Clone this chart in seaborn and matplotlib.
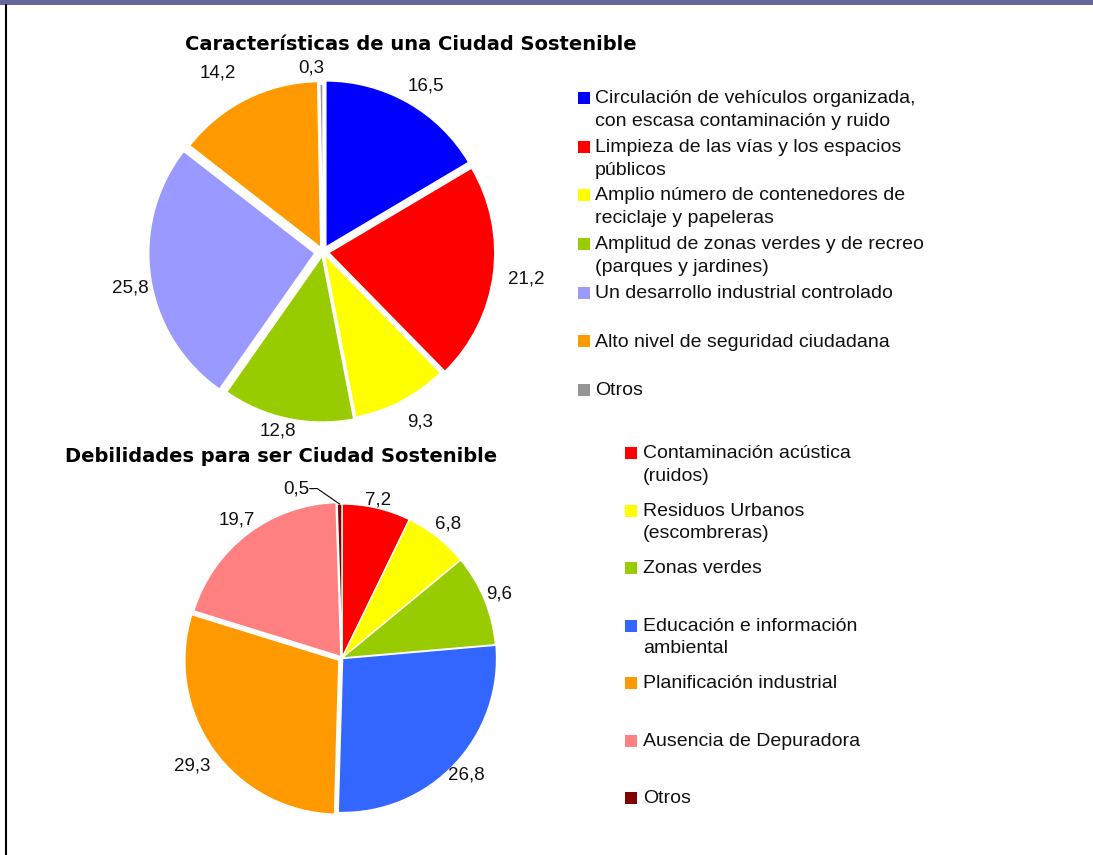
import matplotlib
matplotlib.use("Agg")
import matplotlib.pyplot as plt
import seaborn as sns
import numpy as np
from matplotlib.patches import Rectangle
from matplotlib.lines import Line2D

sns.set_theme(style="white")
plt.rcParams['font.family'] = ['Liberation Sans', 'DejaVu Sans']

# ---- data ----
title1 = "Características de una Ciudad Sostenible"
cats1 = ["Circulación de vehículos organizada,\ncon escasa contaminación y ruido",
         "Limpieza de las vías y los espacios\npúblicos",
         "Amplio número de contenedores de\nreciclaje y papeleras",
         "Amplitud de zonas verdes y de recreo\n(parques y jardines)",
         "Un desarrollo industrial controlado",
         "Alto nivel de seguridad ciudadana",
         "Otros"]
vals1 = [16.5, 21.2, 9.3, 12.8, 25.8, 14.2, 0.3]
cols1 = ["#0000FF", "#FF0000", "#FFFF00", "#99CC00", "#9999FF", "#FF9900", "#969696"]

title2 = "Debilidades para ser Ciudad Sostenible"
cats2 = ["Contaminación acústica\n(ruidos)",
         "Residuos Urbanos\n(escombreras)",
         "Zonas verdes",
         "Educación e información\nambiental",
         "Planificación industrial",
         "Ausencia de Depuradora",
         "Otros"]
vals2 = [7.2, 6.8, 9.6, 26.8, 29.3, 19.7, 0.5]
cols2 = ["#FF0000", "#FFFF00", "#99CC00", "#3366FF", "#FF9900", "#FF8080", "#800000"]

# label placement (distance from centre, in radii) -- layout only
ldist1 = [1.175, 1.235, 1.18, 1.11, 1.18, 1.25, 1.11]
lnudge1 = [-2, 0, 2, -2, 2, 4, 3]   # degrees
ldist2 = [1.05, 1.11, 1.10, 1.11, 1.20, 1.13]

W, H = 1093, 855
fig = plt.figure(figsize=(W / 100, H / 100), dpi=100)
fig.patch.set_facecolor("white")


def fmt(v):
    return f"{v:.1f}".replace(".", ",")


def pie_axes(cx, cy, r):
    s = 2.5 * r
    return fig.add_axes([(cx - s / 2) / W, 1 - (cy + s / 2) / H, s / W, s / H])


LBL = dict(fontsize=13.5, color="#111111", ha="center", va="center")


def mid_angle(w):
    return np.deg2rad((w.theta1 + w.theta2) / 2)


# ---- top pie ----
ax1 = pie_axes(323, 252, 166)
explode1 = [0.035, 0.035, 0.015, 0.025, 0.05, 0.03, 0.01]
wedges, _ = ax1.pie(vals1, colors=cols1, startangle=90, counterclock=False,
                    explode=explode1,
                    wedgeprops=dict(edgecolor="white", linewidth=1.0))
for w, v, d, n in zip(wedges, vals1, ldist1, lnudge1):
    a = mid_angle(w) + np.deg2rad(n)
    ax1.text(d * np.cos(a), d * np.sin(a), fmt(v), **LBL)
ax1.set_xlim(-1.25, 1.25); ax1.set_ylim(-1.25, 1.25)
ax1.axis("off")

# ---- bottom pie ----
ax2 = pie_axes(342, 658, 154)
explode2 = [0.0, 0.0, 0.0, 0.005, 0.025, 0.012, 0.0]
wedges2, _ = ax2.pie(vals2, colors=cols2, startangle=90, counterclock=False,
                     explode=explode2,
                     wedgeprops=dict(edgecolor="white", linewidth=1.0))
for w, v, d in zip(wedges2[:-1], vals2[:-1], ldist2):
    a = mid_angle(w)
    ax2.text(d * np.cos(a), d * np.sin(a), fmt(v), **LBL)
ax2.set_xlim(-1.25, 1.25); ax2.set_ylim(-1.25, 1.25)
ax2.axis("off")
# leader line for the small slice
a = mid_angle(wedges2[-1])
px, py = np.cos(a), np.sin(a)
ax2.plot([-0.21, -0.16, px], [1.10, 1.10, py], color="black", lw=0.8)
ax2.text(-0.215, 1.10, fmt(vals2[-1]), fontsize=13.5, color="#111111",
         ha="right", va="center")

# ---- titles ----
fig.text(411 / W, 1 - 44 / H, title1, ha="center", va="center", fontsize=14,
         fontweight="bold", family="DejaVu Sans", color="black")
fig.text(281 / W, 1 - 456 / H, title2, ha="center", va="center", fontsize=14,
         fontweight="bold", family="DejaVu Sans", color="black")


# ---- legends (manual) ----
def legend(x_sq, x_txt, y0, step, cats, cols):
    for i, (c, col) in enumerate(zip(cats, cols)):
        y = y0 + i * step
        fig.add_artist(Rectangle((x_sq / W, 1 - (y + 6) / H), 12 / W, 12 / H,
                                 transform=fig.transFigure, facecolor=col,
                                 edgecolor="none"))
        fig.text(x_txt / W, 1 - (y - 8) / H, c, ha="left", va="top",
                 fontsize=14, linespacing=1.45, color="#111111")


legend(578, 595, 98, 48.7, cats1, cols1)
legend(625, 643, 453, 57.5, cats2, cols2)

# ---- frame decorations ----
fig.add_artist(Rectangle((0, 1 - 5 / H), 1, 5 / H, transform=fig.transFigure,
                         facecolor="#666699", edgecolor="none"))
fig.add_artist(Line2D([6 / W, 6 / W], [0, 1 - 5 / H], transform=fig.transFigure,
                      color="black", lw=1.5))

fig.savefig("out.png", dpi=100, facecolor="white")
